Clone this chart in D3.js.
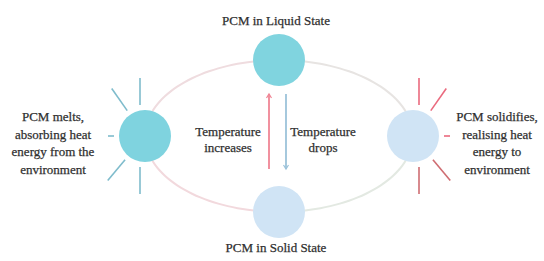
<!DOCTYPE html>
<html>
<head>
<meta charset="utf-8">
<script src="https://cdn.jsdelivr.net/npm/d3@7"></script>
<style>
body { margin: 0; background: #fff; }
</style>
</head>
<body>
<script>
// states around the cycle, clockwise from the top
var states = ["liquid", "solidifying", "solid", "melting"];
var stateLabels = ["PCM in Liquid State", "", "PCM in Solid State", ""];
var sideTexts = [
  ["PCM melts,", "absorbing heat", "energy from the", "environment"],
  ["PCM solidifies,", "realising heat", "energy to", "environment"]
];
var middleTexts = [["Temperature", "increases"], ["Temperature", "drops"]];
// spoke angles in degrees (0 = right, 90 = down)
var meltSpokes = [-90, -125, 180, 130, 90];
var solidSpokes = [-90, -55, 0, 50, 90];

var W = 544, H = 261;
var cx = 279, cy = 136, rx = 134, ry = 76, R = 26;
var FONT = "'Liberation Serif'";

var svg = d3.select("body").append("svg")
    .attr("width", W)
    .attr("height", H);

// angle of each state on the ellipse
var angle = d3.scalePoint().domain(states).range([-Math.PI / 2, Math.PI]);
function pos(s) {
  var a = angle(s);
  return [cx + rx * Math.cos(a), cy + ry * Math.sin(a)];
}

// the ellipse (4 arcs, slightly different tints)
var arcColors = ["#e7e4e2", "#e3e9e2", "#f2d9dd", "#efdcdf"];
var arcLine = d3.line().curve(d3.curveBasis);
states.forEach(function(s, i) {
  var a0 = angle(s), a1 = a0 + Math.PI / 2;
  var pts = d3.range(0, 21).map(function(k) {
    var a = a0 + (a1 - a0) * k / 20;
    return [cx + rx * Math.cos(a), cy + ry * Math.sin(a)];
  });
  svg.append("path")
      .attr("d", arcLine(pts))
      .attr("fill", "none")
      .attr("stroke", arcColors[i])
      .attr("stroke-width", 2);
});

// spokes round the side circles
function spokes(s, list, color, inward) {
  var p = pos(s);
  list.forEach(function(deg) {
    var a = deg * Math.PI / 180;
    var short = (deg === 0 || deg === 180);
    var r0 = R + 5, r1 = short ? R + 11 : R + 32;
    var off = (deg === 90 || deg === -90) ? (inward ? -5 : 6) : 0;
    svg.append("line")
        .attr("x1", p[0] + off + r0 * Math.cos(a))
        .attr("y1", p[1] + r0 * Math.sin(a))
        .attr("x2", p[0] + off + r1 * Math.cos(a))
        .attr("y2", p[1] + r1 * Math.sin(a))
        .attr("stroke", typeof color === "function" ? color(deg) : color)
        .attr("stroke-width", 1.6);
  });
}
spokes("melting", meltSpokes, "#7fbccc", true);
spokes("solidifying", solidSpokes, function(d) { return d > 20 ? "#cf6d72" : "#ea6a7e"; }, false);

// circles
var fills = {liquid: "#80d4df", melting: "#7fd3df", solid: "#d0e4f5", solidifying: "#d0e4f5"};
svg.selectAll("circle.state")
    .data(states)
    .enter().append("circle")
    .attr("class", "state")
    .attr("cx", function(d) { return pos(d)[0]; })
    .attr("cy", function(d) { return pos(d)[1]; })
    .attr("r", R)
    .attr("fill", function(d) { return fills[d]; });

// state labels above / below
svg.selectAll("text.label")
    .data(states.filter(function(d, i) { return stateLabels[i]; }))
    .enter().append("text")
    .attr("class", "label")
    .attr("text-anchor", "middle")
    .style("font-family", FONT)
    .style("font-size", "13px")
    .attr("fill", "#2f2f2f")
    .attr("stroke", "#2f2f2f")
    .attr("stroke-width", 0.25)
    .attr("x", function(d) { return pos(d)[0] - 3; })
    .attr("y", function(d) { return d === "liquid" ? 25 : 252; })
    .text(function(d) { return stateLabels[states.indexOf(d)]; });

// middle arrows
var arrowTop = pos("liquid")[1] + R + 8, arrowBottom = pos("solid")[1] - R - 17;
var arrows = [{x: 269, color: "#f08595", up: true}, {x: 286, color: "#9cc3da", up: false}];
arrows.forEach(function(a) {
  svg.append("line")
      .attr("x1", a.x).attr("x2", a.x)
      .attr("y1", arrowTop).attr("y2", arrowBottom)
      .attr("stroke", a.color)
      .attr("stroke-width", 1.8);
  var y = a.up ? arrowTop : arrowBottom, d = a.up ? 1 : -1;
  svg.append("path")
      .attr("d", "M" + (a.x - 2.5) + "," + (y + 4 * d) + "L" + a.x + "," + y + "L" + (a.x + 2.5) + "," + (y + 4 * d))
      .attr("fill", "none")
      .attr("stroke", a.color)
      .attr("stroke-width", 1.2);
});

// text blocks
function block(lines, x, y0, lh) {
  svg.append("text")
      .attr("text-anchor", "middle")
      .style("font-family", FONT)
      .style("font-size", "13px")
      .attr("fill", "#2f2f2f")
      .attr("stroke", "#2f2f2f")
      .attr("stroke-width", 0.25)
      .selectAll("tspan").data(lines)
      .enter().append("tspan")
      .attr("x", x)
      .attr("y", function(d, i) { return y0 + i * lh; })
      .text(function(d) { return d; });
}
block(sideTexts[0], 53, 121, 17.5);
block(sideTexts[1], 497, 121, 17.5);
block(middleTexts[0], 228, 136, 15.5);
block(middleTexts[1], 323, 136, 15.5);
</script>
</body>
</html>
